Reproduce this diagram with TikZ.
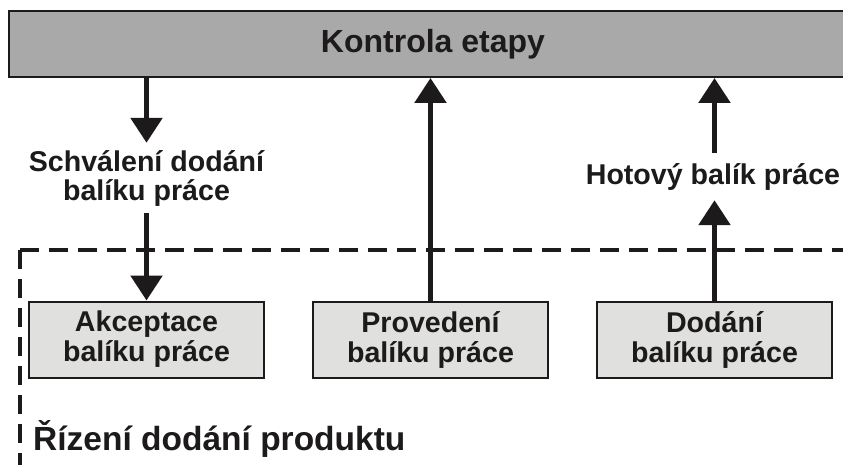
\documentclass[tikz,border=0pt]{standalone}
\usepackage{fontspec}
\setmainfont{Liberation Sans}
\usetikzlibrary{arrows.meta}
\definecolor{barfill}{HTML}{A9A9A9}
\definecolor{boxfill}{HTML}{E0E0DE}
\definecolor{ink}{HTML}{1C1A1A}
\begin{document}
\begin{tikzpicture}[x=1pt,y=-1pt,
  every node/.style={text=ink},
  stagebar/.style={draw=ink, line width=2pt, fill=barfill, inner sep=0pt,
    minimum width=848pt, minimum height=66pt,
    font=\bfseries\fontsize{32}{34}\selectfont},
  workbox/.style={draw=ink, line width=2pt, fill=boxfill, inner sep=0pt,
    minimum width=235pt, minimum height=76pt, align=center,
    font=\bfseries\fontsize{28.6}{30}\selectfont},
  flowlabel/.style={inner sep=0pt, align=center,
    font=\bfseries\fontsize{28.6}{29}\selectfont},
  flow/.style={draw=ink, line width=5.5pt, -{Triangle[width=31pt,length=25pt]}},
  areaframe/.style={draw=ink, line width=3.5pt, dash pattern=on 19pt off 10pt}
]
\useasboundingbox (0,0) rectangle (843,465);
\fill[white] (0,0) rectangle (843,465);

% dashed frame of the product delivery area (open to the right and bottom)
\draw[areaframe] (20,250) -- (848,250);
\draw[areaframe] (20,250) -- (20,475);

% stage control bar
\node[stagebar] (bar) at (433,44) {Kontrola etapy};

% work package boxes
\node[workbox] (acc)  at (146.5,339.5) {Akceptace\\balíku práce};
\node[workbox] (prov) at (430.5,339.5) {Provedení\\balíku práce};
\node[workbox] (dod)  at (714.5,339.5) {Dodání\\balíku práce};

% flow labels
\node[flowlabel, minimum height=70pt] (sch) at (146.5,178) {Schválení dodání\\balíku práce};
\node[flowlabel, minimum height=47pt] (hot) at (713,176.5) {Hotový balík práce};

% area caption
\node[anchor=base west, inner sep=0pt, font=\bfseries\fontsize{33.5}{36}\selectfont]
  (area) at (33,450) {Řízení dodání produktu};

% connectors
\draw[flow] (bar.south -| sch.north) -- (sch.north);
\draw[flow] (sch.south) -- (acc.north);
\draw[flow] (prov.north) -- (bar.south -| prov.north);
\draw[flow] (dod.north) -- (dod.north |- hot.south);
\draw[flow] (dod.north |- hot.north) -- (bar.south -| dod.north);
\end{tikzpicture}
\end{document}
